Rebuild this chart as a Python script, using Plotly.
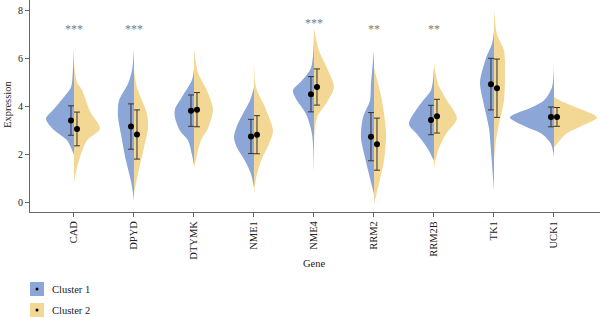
import plotly.graph_objects as go

genes = ["CAD", "DPYD", "DTYMK", "NME1", "NME4", "RRM2", "RRM2B", "TK1", "UCK1"]

# mean and SD per cluster
mean_c1 = [3.42, 3.17, 3.83, 2.76, 4.51, 2.75, 3.44, 4.93, 3.57]
sd_c1 = [0.61, 0.94, 0.65, 0.71, 0.73, 1.00, 0.61, 1.07, 0.41]
mean_c2 = [3.07, 2.84, 3.87, 2.83, 4.81, 2.44, 3.60, 4.76, 3.57]
sd_c2 = [0.70, 1.02, 0.71, 0.79, 0.75, 1.08, 0.70, 1.21, 0.39]

# significance labels
sig_genes = ["CAD", "DPYD", "NME4", "RRM2", "RRM2B"]
sig_text = ["***", "***", "***", "**", "**"]
sig_y = [7.2, 7.2, 7.48, 7.2, 7.2]

# density profiles (expression value, relative half-width)
dens_c1 = {
    "CAD": [(6.46, 0), (5.6, 1), (4.8, 3), (4.4, 10), (3.9, 20), (3.5, 28), (3.1, 22), (2.6, 7), (2.2, 2), (2.0, 0)],
    "DPYD": [(6.4, 0), (5.5, 2), (4.95, 6), (4.25, 15), (3.6, 16), (2.85, 13), (1.75, 8), (0.9, 3), (0.1, 0)],
    "DTYMK": [(5.6, 0), (5.1, 2), (4.4, 12), (3.9, 19), (3.55, 19), (3.0, 14), (2.6, 6), (2.0, 2), (1.55, 0)],
    "NME1": [(4.8, 0), (4.25, 4), (3.7, 11), (3.2, 17), (2.7, 20), (2.3, 17), (1.75, 9), (1.2, 3), (0.63, 0)],
    "NME4": [(7.0, 0), (5.6, 3), (5.08, 12), (4.67, 21), (4.25, 17), (3.7, 8), (2.86, 2), (1.2, 0)],
    "RRM2": [(6.33, 0), (4.95, 3), (4.25, 4), (3.55, 11), (2.7, 13), (1.9, 9), (1.2, 5), (0.37, 0)],
    "RRM2B": [(5.6, 0), (4.67, 3), (4.25, 11), (3.28, 25), (2.86, 17), (2.3, 7), (1.75, 0)],
    "TK1": [(7.1, 0), (6.6, 2), (6.0, 8), (5.0, 14), (4.25, 11), (3.1, 5), (2.17, 3), (0.5, 0)],
    "UCK1": [(5.85, 0), (4.8, 2), (4.25, 10), (3.97, 22), (3.55, 44), (3.2, 30), (2.86, 12), (2.45, 3), (1.9, 0)],
}
dens_c2 = {
    "CAD": [(5.8, 0), (5.0, 3), (4.7, 8), (3.8, 16), (3.08, 26), (2.6, 13), (1.9, 6), (1.3, 2), (0.8, 0)],
    "DPYD": [(5.5, 0), (4.8, 3), (4.25, 8), (3.7, 13), (3.1, 14), (2.3, 10), (1.2, 4), (0.37, 0)],
    "DTYMK": [(6.4, 0), (5.4, 4), (4.67, 13), (3.9, 19), (3.1, 14), (2.6, 7), (2.0, 3), (1.46, 0)],
    "NME1": [(6.05, 0), (4.8, 2), (3.97, 11), (3.0, 19), (2.45, 15), (1.75, 7), (1.0, 2), (0.37, 0)],
    "NME4": [(7.24, 0), (6.33, 5), (5.6, 13), (4.8, 20), (4.25, 14), (3.55, 3), (2.6, 0)],
    "RRM2": [(5.6, 0), (4.25, 8), (2.86, 12), (1.75, 10), (0.63, 4), (-0.05, 0)],
    "RRM2B": [(5.8, 0), (4.95, 4), (4.25, 13), (3.5, 23), (2.86, 12), (2.17, 4), (1.46, 0)],
    "TK1": [(8.0, 0), (7.0, 3), (6.33, 10), (5.2, 11), (4.25, 10), (3.28, 5), (2.6, 2), (1.75, 0)],
    "UCK1": [(4.4, 0), (4.25, 6), (3.97, 22), (3.55, 43), (3.2, 28), (2.86, 12), (2.45, 3), (2.3, 0)],
}

BLUE = "#8DA6D8"
YELLOW = "#F2D894"
FONT = "Liberation Serif"
WSCALE = 1 / 60.0
OFF = 0.05

fig = go.Figure()

for i, g in enumerate(genes):
    for dens, sign, col in ((dens_c1, -1, BLUE), (dens_c2, 1, YELLOW)):
        prof = dens[g]
        xs = [i + sign * w * WSCALE for v, w in prof]
        ys = [v for v, w in prof]
        fig.add_trace(go.Scatter(
            x=xs, y=ys, mode="lines", line=dict(width=0, shape="spline", smoothing=0.8),
            fill="toself", fillcolor=col, hoverinfo="skip", showlegend=False))

xs1 = [i - OFF for i in range(len(genes))]
xs2 = [i + OFF for i in range(len(genes))]
for xs, m, s in ((xs1, mean_c1, sd_c1), (xs2, mean_c2, sd_c2)):
    fig.add_trace(go.Scatter(
        x=xs, y=m, mode="markers",
        marker=dict(color="black", size=6),
        error_y=dict(type="data", array=s, visible=True, color="#333333", thickness=1, width=3),
        showlegend=False))

for g, t, y in zip(sig_genes, sig_text, sig_y):
    fig.add_annotation(x=genes.index(g), y=y, text=t, showarrow=False,
                       font=dict(family=FONT, size=12, color="#7a7a7a"),
                       xanchor="center", yanchor="middle")

W, H = 600, 317
L, R, T, B = 30, 0, 0, 105
pw, ph = W - L - R, H - T - B


def px_x(x):
    return (x - L) / pw


def px_y(y):
    return (H - B - y) / ph


# legend
for k, (col, name) in enumerate(((BLUE, "Cluster 1"), (YELLOW, "Cluster 2"))):
    y0 = 282 + k * 21
    fig.add_shape(type="rect", xref="paper", yref="paper",
                  x0=px_x(30), x1=px_x(44), y0=px_y(y0), y1=px_y(y0 + 14),
                  fillcolor=col, line=dict(width=0))
    fig.add_shape(type="circle", xref="paper", yref="paper",
                  x0=px_x(35.5), x1=px_x(38.5), y0=px_y(y0 + 5.5), y1=px_y(y0 + 8.5),
                  fillcolor="black", line=dict(width=0))
    fig.add_annotation(xref="paper", yref="paper", x=px_x(50), y=px_y(y0 + 7),
                       text=name, showarrow=False, xanchor="left", yanchor="middle",
                       font=dict(family=FONT, size=10.5, color="#222222"))

fig.add_annotation(xref="paper", yref="paper", x=px_x(314), y=px_y(263), text="Gene",
                   showarrow=False, xanchor="center", yanchor="middle",
                   font=dict(family=FONT, size=10.5, color="#222222"))
fig.add_annotation(xref="paper", yref="paper", x=px_x(8), y=px_y(105), text="Expression",
                   showarrow=False, xanchor="center", yanchor="middle", textangle=-90,
                   font=dict(family=FONT, size=10.5, color="#222222"))

fig.update_layout(
    width=W, height=H, margin=dict(l=L, r=R, t=T, b=B),
    plot_bgcolor="white", paper_bgcolor="white",
    font=dict(family=FONT, size=10, color="#222222"),
    showlegend=False,
)
fig.update_xaxes(range=[-0.733, 8.767], tickmode="array", tickvals=list(range(len(genes))),
                 ticktext=genes, tickangle=-90, showgrid=False, zeroline=False,
                 showline=True, linecolor="#666666", linewidth=1,
                 ticks="outside", ticklen=4, tickcolor="#666666",
                 tickfont=dict(family=FONT, size=10.5, color="#222222"))
fig.update_yaxes(range=[-0.375, 8.42], tickvals=[0, 2, 4, 6, 8], showgrid=False, zeroline=False,
                 showline=True, linecolor="#666666", linewidth=1,
                 ticks="outside", ticklen=4, tickcolor="#666666",
                 tickfont=dict(family=FONT, size=10, color="#222222"))

fig.write_html("out.html")
